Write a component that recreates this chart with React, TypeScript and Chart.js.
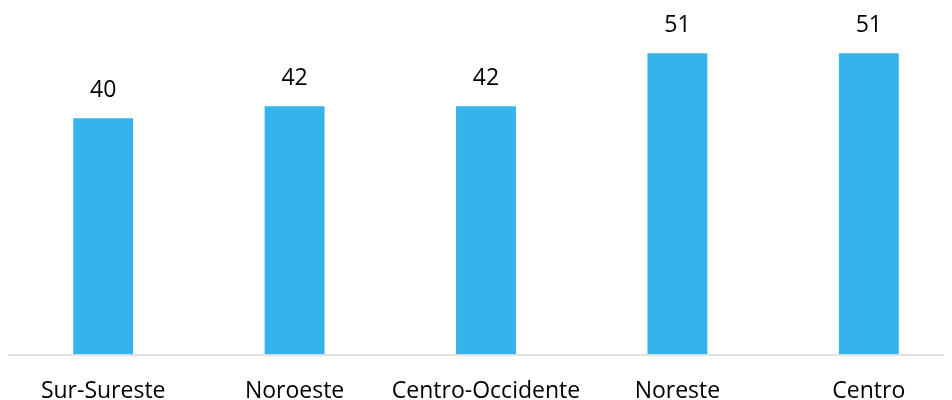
import React, { useEffect, useRef } from "react";
import { Chart, registerables } from "chart.js";

Chart.register(...registerables);

const categories = ["Sur-Sureste", "Noroeste", "Centro-Occidente", "Noreste", "Centro"];
const values = [40, 42, 42, 51, 51];
const valueLabels = ["40", "42", "42", "51", "51"];

const FONT = "'Open Sans', sans-serif";

const valueLabelPlugin = {
  id: "valueLabels",
  afterDatasetsDraw(chart: any) {
    const ctx = chart.ctx;
    const meta = chart.getDatasetMeta(0);
    const area = chart.chartArea;
    ctx.save();
    ctx.strokeStyle = "#D9D9D9";
    ctx.lineWidth = 1.5;
    ctx.beginPath();
    ctx.moveTo(area.left, area.bottom + 0.5);
    ctx.lineTo(chart.width, area.bottom + 0.5);
    ctx.stroke();
    ctx.font = `23px ${FONT}`;
    ctx.fillStyle = "#000000";
    ctx.textAlign = "center";
    ctx.textBaseline = "middle";
    meta.data.forEach((bar: any, i: number) => {
      ctx.fillText(valueLabels[i], bar.x, bar.y - 27.5);
    });
    ctx.restore();
  },
};

export default function App() {
  const ref = useRef<HTMLCanvasElement>(null);
  useEffect(() => {
    if (!ref.current) return;
    const chart = new Chart(ref.current, {
      type: "bar",
      data: {
        labels: categories,
        datasets: [
          {
            data: values,
            backgroundColor: "#35B3EB",
            borderWidth: 0,
            barPercentage: 1,
            categoryPercentage: 0.313,
          },
        ],
      },
      options: {
        responsive: false,
        animation: false,
        layout: { padding: { left: 7.5, right: 1.5, top: 0, bottom: 0 } },
        plugins: {
          legend: { display: false },
          tooltip: { enabled: false },
        },
        scales: {
          x: {
            grid: { display: false, drawTicks: false },
            border: { display: false },
            ticks: {
              color: "#000000",
              font: { family: FONT, size: 23 },
              padding: 23,
              maxRotation: 0,
              autoSkip: false,
            },
            afterFit: (scale: any) => {
              scale.height = 45.5;
            },
          },
          y: {
            display: false,
            min: 0,
            max: 60,
          },
        },
      },
      plugins: [valueLabelPlugin],
    });
    return () => chart.destroy();
  }, []);
  return (
    <div
      style={{
        margin: "-8px 0 0 -8px",
        width: 952,
        height: 400,
        overflow: "hidden",
        position: "relative",
        background: "#ffffff",
      }}
    >
      <canvas ref={ref} width={966} height={400} style={{ display: "block" }} />
    </div>
  );
}
